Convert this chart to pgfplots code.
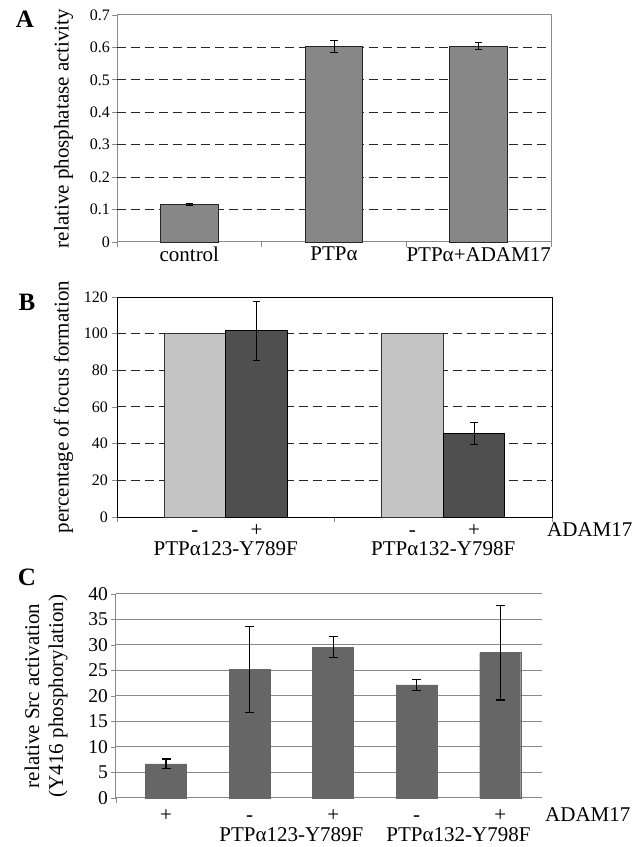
\documentclass[border=0pt]{standalone}
\usepackage{fontspec}
\setmainfont{Liberation Serif}
\usepackage{pgfplots}
\pgfplotsset{compat=1.18}
\definecolor{barA}{HTML}{878787}
\definecolor{lightB}{HTML}{C4C4C4}
\definecolor{darkB}{HTML}{4F4F4F}
\definecolor{barC}{HTML}{666666}
\definecolor{frameA}{HTML}{8C8C8C}
\definecolor{gridC}{HTML}{8A8A8A}
\newcommand{\tickfont}{\fontsize{16}{19}\selectfont}
\newcommand{\labfont}{\fontsize{21}{24}\selectfont}
\pgfplotsset{
  panel/.style={
    scale only axis, anchor=south west, clip=false,
    tick align=outside, tick pos=left,
    /pgf/number format/assume math mode=true,
    yticklabel style={font=\tickfont, inner sep=2pt},
    xticklabel style={font=\labfont, inner sep=0pt, yshift=-5pt},
    ylabel style={font=\labfont},
    major tick length=5pt,
  },
  dgrid/.style={grid style={black!85, line width=1pt, dash pattern=on 9pt off 5pt},
    extra y ticks={#1}, extra y tick labels={},
    extra y tick style={ymajorgrids=true, major tick length=0pt}},
  ebar/.style 2 args={error bars/.cd, y dir=both, y explicit,
    error bar style={black, line width=#1},
    error mark options={black, rotate=90, mark size=#2, line width=#1}},
}
\begin{document}
\begin{tikzpicture}[x=1pt,y=1pt]
\useasboundingbox (0,0) rectangle (638,847);

% ---------------- Panel A ----------------
\begin{axis}[panel, dgrid={0.1,0.2,0.3,0.4,0.5,0.6}, at={(117pt,605pt)}, width=434pt, height=227pt,
  xmin=-0.5, xmax=2.5, ymin=0, ymax=0.7,
  ytick={0,0.1,0.2,0.3,0.4,0.5,0.6,0.7},
  yticklabel style={/pgf/number format/fixed, /pgf/number format/precision=1},
  xtick={-0.5,0.5,1.5,2.5}, xticklabels={},
  extra x ticks={0,1,2}, extra x tick labels={control,PTPα,PTPα+ADAM17},
  extra x tick style={major tick length=0pt, xmajorgrids=false},
  axis line style={draw=frameA, line width=1pt},
  every tick/.style={draw=frameA, line width=0.8pt},
  ylabel={relative phosphatase activity}, ylabel shift=6pt,
  ybar, bar width=57.7pt,
]
\addplot[fill=barA, draw=black!85, line width=0.8pt, ebar={0.9pt}{3.8pt}]
  coordinates {(0,0.116) +- (0,0.002) (1,0.604) +- (0,0.018) (2,0.604) +- (0,0.011)};
\end{axis}

% ---------------- Panel B ----------------
\begin{axis}[panel, dgrid={20,40,60,80,100}, at={(117pt,330pt)}, width=435pt, height=220pt,
  xmin=-0.5, xmax=1.5, ymin=0, ymax=120,
  ytick={0,20,40,60,80,100,120},
  yticklabel style={font=\fontsize{16}{19}\selectfont, inner sep=4pt},
  xtick={-0.5,0.5,1.5}, xticklabels={},
  axis line style={draw=black, line width=0.9pt},
  every tick/.style={draw=frameA, line width=0.8pt},
  ylabel={percentage of focus formation}, ylabel shift=-2pt,
  ybar=0pt, bar width=61.5pt,
]
\addplot[fill=lightB, draw=black!80, line width=0.7pt]
  coordinates {(0,100) (1,100)};
\addplot[fill=darkB, draw=black, line width=0.8pt, ebar={0.9pt}{3.8pt}]
  coordinates {(0,101.6) +- (0,16) (1,45.5) +- (0,6.2)};
\node[font=\labfont, anchor=base] at (axis cs:-0.142,0) [yshift=-20pt] {-};
\node[font=\labfont, anchor=base] at (axis cs:0.142,0) [yshift=-20pt] {+};
\node[font=\labfont, anchor=base] at (axis cs:0.858,0) [yshift=-20pt] {-};
\node[font=\labfont, anchor=base] at (axis cs:1.142,0) [yshift=-20pt] {+};
\node[font=\labfont, anchor=base west, inner sep=0pt] at (rel axis cs:1,0) [xshift=-5pt, yshift=-20pt] {ADAM17};
\node[font=\labfont, anchor=base] at (axis cs:0,0) [yshift=-39pt] {PTPα123-Y789F};
\node[font=\labfont, anchor=base] at (axis cs:1,0) [yshift=-39pt] {PTPα132-Y798F};
\end{axis}

% ---------------- Panel C ----------------
\begin{axis}[panel, at={(116pt,49pt)}, width=426pt, height=204pt,
  xmin=-0.6, xmax=4.5, ymin=0, ymax=40,
  ytick={0,5,10,15,20,25,30,35,40},
  yticklabel style={font=\fontsize{19.5}{22}\selectfont, inner sep=3pt},
  xtick={-0.6}, xticklabels={},
  axis x line*=bottom, axis y line*=left,
  axis line style={draw=gridC, line width=1pt, -},
  every tick/.style={draw=gridC, line width=0.8pt},
  ymajorgrids, grid style={gridC, line width=1pt},
  ylabel={relative Src activation\\(Y416 phosphorylation)},
  ylabel style={align=center}, ylabel shift=14pt,
  ybar, bar width=41pt,
]
\addplot[fill=barC, draw=barC, ebar={1.3pt}{4.5pt}]
  coordinates {(0,6.7) +- (0,0.95) (1,25.2) +- (0,8.4) (2,29.6) +- (0,2.1)
               (3,22.2) +- (0,1.1) (4,28.5) +- (0,9.3)};
\node[font=\labfont, anchor=base] at (axis cs:0,0) [yshift=-24pt] {+};
\node[font=\labfont, anchor=base] at (axis cs:1,0) [yshift=-24pt] {-};
\node[font=\labfont, anchor=base] at (axis cs:2,0) [yshift=-24pt] {+};
\node[font=\labfont, anchor=base] at (axis cs:3,0) [yshift=-24pt] {-};
\node[font=\labfont, anchor=base] at (axis cs:4,0) [yshift=-24pt] {+};
\node[font=\labfont, anchor=base west, inner sep=0pt] at (rel axis cs:1,0) [xshift=3pt, yshift=-24pt] {ADAM17};
\node[font=\labfont, anchor=base] at (axis cs:1.5,0) [yshift=-44pt] {PTPα123-Y789F};
\node[font=\labfont, anchor=base] at (axis cs:3.5,0) [yshift=-44pt] {PTPα132-Y798F};
\end{axis}

% panel letters
\node[font=\fontsize{25}{28}\selectfont\bfseries] at (25,828) {A};
\node[font=\fontsize{25}{28}\selectfont\bfseries] at (27,545) {B};
\node[font=\fontsize{25}{28}\selectfont\bfseries] at (27,270) {C};
\end{tikzpicture}
\end{document}
